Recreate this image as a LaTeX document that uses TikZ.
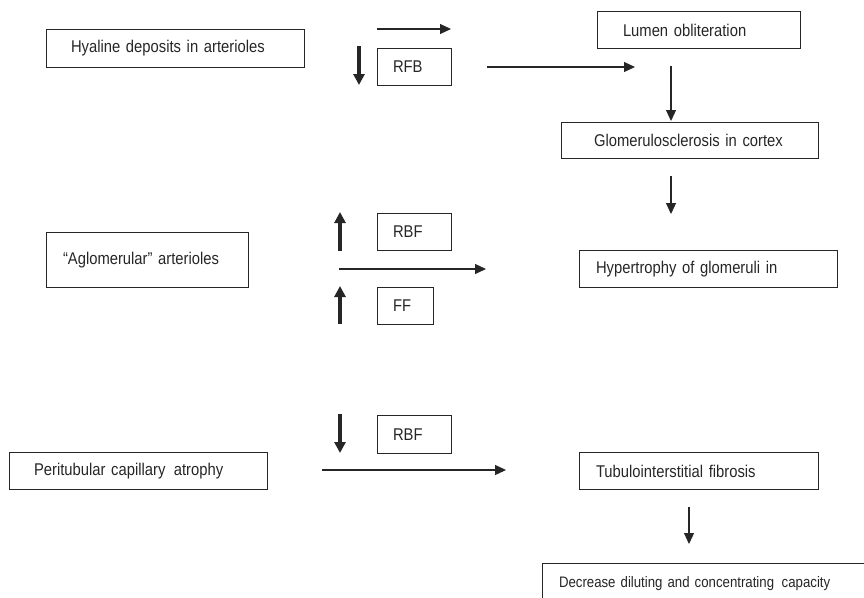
\documentclass[tikz,border=0pt]{standalone}
\usepackage{fontspec}
\setmainfont{Liberation Sans}[FakeStretch=0.87]
\usetikzlibrary{arrows.meta}
\tikzset{
  box/.style={draw=black!85, line width=1pt, rectangle, inner ysep=0pt, inner xsep=0pt, align=left,
    font=\fontsize{17}{20}\selectfont, text=black!85},
  smalltext/.style={font=\fontsize{15.2}{18}\selectfont},
  thin/.style={line width=1.1pt, draw=black!85, -{Triangle[length=11pt,width=10pt]}},
  thick/.style={line width=4pt, draw=black!85, -{Triangle[length=11pt,width=11pt]}},
}
\newcommand{\mybox}[8][]{% opts, name, left, top, right, bottom, pad, text
  \node[box, #1, anchor=north west, minimum width={#5-#3}, minimum height={#6-#4},
        text width={#5-#3-1}] (#2) at (#3,#4) {\hspace*{#7}#8};}
\begin{document}
\begin{tikzpicture}[x=1pt,y=-1pt]
\useasboundingbox (0,0) rectangle (864,597);
% boxes
\mybox{hya}{46}{29}{304}{67}{24pt}{Hyaline deposits in arterioles}
\mybox{rfb}{377}{48}{451}{85}{15pt}{RFB}
\mybox{lum}{597}{11}{800}{48}{25pt}{Lumen obliteration}
\mybox{glom}{561}{122}{818}{158}{32pt}{Glomerulosclerosis in cortex}
\mybox{aglo}{46}{232}{248}{287}{16pt}{``Aglomerular'' arterioles}
\mybox{rbfa}{377}{213}{451}{250}{15pt}{RBF}
\mybox{ff}{377}{287}{433}{324}{15pt}{FF}
\mybox{hyp}{579}{250}{837}{287}{16pt}{Hypertrophy of glomeruli in}
\mybox{peri}{9}{452}{267}{489}{24pt}{Peritubular capillary\, atrophy}
\mybox{rbfb}{377}{415}{451}{453}{15pt}{RBF}
\mybox{tub}{579}{452}{818}{489}{16pt}{Tubulointerstitial fibrosis}
\begin{scope}
\clip (0,0) rectangle (864,597);
\mybox[smalltext]{dec}{542}{563}{880}{605}{16pt}{\raisebox{5pt}{Decrease diluting and concentrating\, capacity}}
\end{scope}
% arrow coordinates
\coordinate (a1s) at (377,29); \coordinate (a1e) at (451,29);
\coordinate (t1s) at (359,46); \coordinate (t1e) at (359,85);
\coordinate (a2s) at (487,67); \coordinate (a2e) at (635,67);
\coordinate (l1s) at (671,66); \coordinate (l1e) at (671,121);
\coordinate (g1s) at (671,176); \coordinate (g1e) at (671,214);
\coordinate (u1s) at (340,251); \coordinate (u1e) at (340,212);
\coordinate (a3s) at (339,269); \coordinate (a3e) at (486,269);
\coordinate (u2s) at (340,324); \coordinate (u2e) at (340,286);
\coordinate (d2s) at (340,414); \coordinate (d2e) at (340,453);
\coordinate (a4s) at (322,470); \coordinate (a4e) at (506,470);
\coordinate (tbs) at (689,507); \coordinate (tbe) at (689,544);
% arrows
\draw[thin] (a1s) -- (a1e);
\draw[thick] (t1s) -- (t1e);
\draw[thin] (a2s) -- (a2e);
\draw[thin] (l1s) -- (l1e);
\draw[thin] (g1s) -- (g1e);
\draw[thick] (u1s) -- (u1e);
\draw[thin] (a3s) -- (a3e);
\draw[thick] (u2s) -- (u2e);
\draw[thick] (d2s) -- (d2e);
\draw[thin] (a4s) -- (a4e);
\draw[thin] (tbs) -- (tbe);
\end{tikzpicture}
\end{document}
